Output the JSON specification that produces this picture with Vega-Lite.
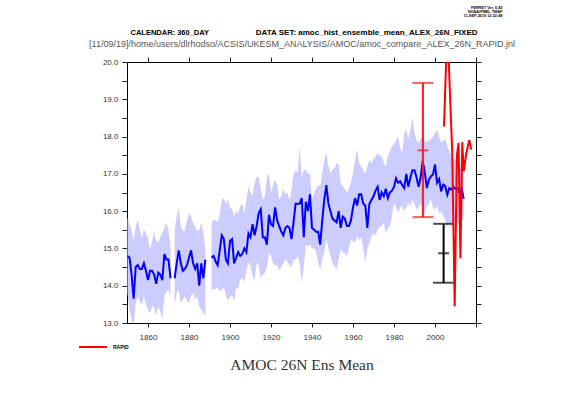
{
  "$schema": "https://vega.github.io/schema/vega-lite/v6.json",
  "width": 349,
  "height": 261,
  "autosize": {"type": "none"},
  "padding": {"left": 127, "top": 62, "right": 85, "bottom": 74},
  "background": "white",
  "config": {
    "view": {"stroke": "#000", "strokeWidth": 1},
    "font": "Liberation Sans",
    "axis": {"grid": false, "domain": false, "tickColor": "#222", "labelColor": "#333", "labelFontSize": 8, "labelFont": "Liberation Sans", "titleFont": "Liberation Sans"}
  },
  "title": {"text": ["FERRET Ver. 6.82", "NOAA/PMEL TMAP", "11-SEP-2019 12:22:48"], "anchor": "end", "dx": -12, "fontSize": 3.8, "lineHeight": 3.9, "fontWeight": "bold", "color": "#000", "offset": 10, "font": "Liberation Sans"},
  "datasets": {
    "ens": [
      {"year":1850,"mean":14.8,"lo":13.8,"hi":15.82},
      {"year":1851,"mean":14.75,"lo":13.36,"hi":15.64},
      {"year":1852,"mean":14.3,"lo":13.09,"hi":15.5},
      {"year":1853,"mean":13.65,"lo":12.9,"hi":15.2},
      {"year":1854,"mean":14.5,"lo":13.54,"hi":15.59},
      {"year":1855,"mean":14.55,"lo":13.72,"hi":15.77},
      {"year":1856,"mean":14.45,"lo":13.58,"hi":15.5},
      {"year":1857,"mean":14.45,"lo":13.49,"hi":15.28},
      {"year":1858,"mean":14.6,"lo":13.72,"hi":15.5},
      {"year":1859,"mean":14.4,"lo":13.49,"hi":15.41},
      {"year":1860,"mean":14.15,"lo":13.36,"hi":15.28},
      {"year":1861,"mean":14.4,"lo":13.27,"hi":14.97},
      {"year":1862,"mean":14.4,"lo":13.45,"hi":15.2},
      {"year":1863,"mean":14.3,"lo":13.4,"hi":15.46},
      {"year":1864,"mean":14.05,"lo":13.2,"hi":15.2},
      {"year":1865,"mean":14.35,"lo":13.45,"hi":15.15},
      {"year":1866,"mean":14.3,"lo":13.3,"hi":15.32},
      {"year":1867,"mean":14.15,"lo":13.1,"hi":15.41},
      {"year":1868,"mean":14.85,"lo":13.72,"hi":15.55},
      {"year":1869,"mean":14.7,"lo":13.85,"hi":15.68},
      {"year":1870,"mean":14.7,"lo":13.9,"hi":15.5},
      {"year":1871,"mean":14.2,"lo":13.72,"hi":15.06},
      {"year":1872,"mean":null,"lo":null,"hi":null},
      {"year":1873,"mean":14.2,"lo":13.45,"hi":15.5},
      {"year":1874,"mean":14.6,"lo":13.8,"hi":15.86},
      {"year":1875,"mean":14.95,"lo":13.9,"hi":16.08},
      {"year":1876,"mean":14.6,"lo":13.54,"hi":15.59},
      {"year":1877,"mean":14.4,"lo":13.63,"hi":15.46},
      {"year":1878,"mean":14.45,"lo":13.72,"hi":15.5},
      {"year":1879,"mean":14.55,"lo":13.58,"hi":15.77},
      {"year":1880,"mean":14.75,"lo":13.54,"hi":15.95},
      {"year":1881,"mean":14.95,"lo":13.72,"hi":15.86},
      {"year":1882,"mean":14.6,"lo":13.8,"hi":15.68},
      {"year":1883,"mean":14.45,"lo":13.63,"hi":15.59},
      {"year":1884,"mean":14.6,"lo":13.72,"hi":15.46},
      {"year":1885,"mean":14.0,"lo":13.45,"hi":15.5},
      {"year":1886,"mean":14.6,"lo":13.36,"hi":15.68},
      {"year":1887,"mean":14.2,"lo":13.27,"hi":15.41},
      {"year":1888,"mean":14.7,"lo":13.18,"hi":14.97},
      {"year":1889,"mean":null,"lo":null,"hi":null},
      {"year":1890,"mean":null,"lo":null,"hi":null},
      {"year":1891,"mean":14.75,"lo":13.9,"hi":15.68},
      {"year":1892,"mean":14.8,"lo":13.9,"hi":15.77},
      {"year":1893,"mean":14.65,"lo":13.92,"hi":15.75},
      {"year":1894,"mean":14.55,"lo":13.95,"hi":15.7},
      {"year":1895,"mean":14.95,"lo":13.85,"hi":15.9},
      {"year":1896,"mean":15.35,"lo":13.9,"hi":16.3},
      {"year":1897,"mean":15.25,"lo":13.95,"hi":16.35},
      {"year":1898,"mean":14.7,"lo":13.75,"hi":16.2},
      {"year":1899,"mean":14.6,"lo":13.6,"hi":16.31},
      {"year":1900,"mean":15.2,"lo":13.7,"hi":16.1},
      {"year":1901,"mean":15.25,"lo":13.75,"hi":16.05},
      {"year":1902,"mean":14.6,"lo":13.58,"hi":15.85},
      {"year":1903,"mean":14.75,"lo":13.95,"hi":16.0},
      {"year":1904,"mean":14.9,"lo":13.9,"hi":15.95},
      {"year":1905,"mean":14.8,"lo":14.16,"hi":16.13},
      {"year":1906,"mean":14.85,"lo":14.2,"hi":16.2},
      {"year":1907,"mean":15.0,"lo":14.1,"hi":15.95},
      {"year":1908,"mean":14.9,"lo":14.4,"hi":16.3},
      {"year":1909,"mean":15.4,"lo":14.61,"hi":16.67},
      {"year":1910,"mean":15.3,"lo":14.55,"hi":16.5},
      {"year":1911,"mean":15.65,"lo":14.25,"hi":16.4},
      {"year":1912,"mean":15.35,"lo":14.16,"hi":16.75},
      {"year":1913,"mean":15.6,"lo":14.61,"hi":16.93},
      {"year":1914,"mean":15.95,"lo":14.55,"hi":16.9},
      {"year":1915,"mean":16.05,"lo":14.2,"hi":16.6},
      {"year":1916,"mean":15.3,"lo":14.3,"hi":16.31},
      {"year":1917,"mean":15.3,"lo":14.34,"hi":16.4},
      {"year":1918,"mean":15.1,"lo":14.5,"hi":16.9},
      {"year":1919,"mean":15.9,"lo":14.88,"hi":17.0},
      {"year":1920,"mean":15.65,"lo":14.8,"hi":16.5},
      {"year":1921,"mean":15.6,"lo":14.6,"hi":16.7},
      {"year":1922,"mean":16.1,"lo":14.55,"hi":16.84},
      {"year":1923,"mean":15.75,"lo":14.55,"hi":16.7},
      {"year":1924,"mean":15.6,"lo":14.4,"hi":16.3},
      {"year":1925,"mean":15.45,"lo":14.5,"hi":16.4},
      {"year":1926,"mean":15.35,"lo":14.6,"hi":16.6},
      {"year":1927,"mean":15.55,"lo":14.7,"hi":16.45},
      {"year":1928,"mean":15.6,"lo":14.65,"hi":16.5},
      {"year":1929,"mean":15.55,"lo":14.55,"hi":16.3},
      {"year":1930,"mean":15.25,"lo":14.5,"hi":16.55},
      {"year":1931,"mean":15.7,"lo":14.7,"hi":17.0},
      {"year":1932,"mean":16.2,"lo":14.7,"hi":17.1},
      {"year":1933,"mean":16.2,"lo":14.8,"hi":17.02},
      {"year":1934,"mean":16.2,"lo":14.6,"hi":17.74},
      {"year":1935,"mean":16.35,"lo":14.07,"hi":16.9},
      {"year":1936,"mean":15.3,"lo":14.5,"hi":17.1},
      {"year":1937,"mean":16.25,"lo":15.1,"hi":17.11},
      {"year":1938,"mean":16.0,"lo":15.05,"hi":17.0},
      {"year":1939,"mean":16.45,"lo":15.1,"hi":17.0},
      {"year":1940,"mean":15.55,"lo":15.0,"hi":16.3},
      {"year":1941,"mean":15.5,"lo":15.0,"hi":16.5},
      {"year":1942,"mean":15.45,"lo":14.9,"hi":16.6},
      {"year":1943,"mean":15.45,"lo":14.61,"hi":16.7},
      {"year":1944,"mean":15.1,"lo":14.43,"hi":16.67},
      {"year":1945,"mean":15.75,"lo":14.7,"hi":17.0},
      {"year":1946,"mean":16.3,"lo":14.9,"hi":17.38},
      {"year":1947,"mean":16.7,"lo":15.24,"hi":17.56},
      {"year":1948,"mean":16.2,"lo":15.0,"hi":17.2},
      {"year":1949,"mean":16.0,"lo":14.79,"hi":17.02},
      {"year":1950,"mean":15.8,"lo":14.6,"hi":17.11},
      {"year":1951,"mean":15.75,"lo":14.52,"hi":17.15},
      {"year":1952,"mean":15.7,"lo":14.43,"hi":17.29},
      {"year":1953,"mean":16.0,"lo":14.7,"hi":17.25},
      {"year":1954,"mean":15.55,"lo":14.97,"hi":16.76},
      {"year":1955,"mean":15.85,"lo":14.9,"hi":16.67},
      {"year":1956,"mean":15.8,"lo":14.88,"hi":16.6},
      {"year":1957,"mean":15.6,"lo":14.79,"hi":16.49},
      {"year":1958,"mean":15.6,"lo":15.0,"hi":16.6},
      {"year":1959,"mean":15.75,"lo":15.24,"hi":16.76},
      {"year":1960,"mean":16.1,"lo":15.2,"hi":17.02},
      {"year":1961,"mean":16.35,"lo":15.15,"hi":17.38},
      {"year":1962,"mean":16.15,"lo":15.33,"hi":17.65},
      {"year":1963,"mean":16.45,"lo":15.24,"hi":17.3},
      {"year":1964,"mean":16.45,"lo":15.3,"hi":17.2},
      {"year":1965,"mean":16.2,"lo":15.0,"hi":17.11},
      {"year":1966,"mean":16.15,"lo":14.61,"hi":17.0},
      {"year":1967,"mean":15.55,"lo":15.0,"hi":17.2},
      {"year":1968,"mean":16.2,"lo":15.15,"hi":17.38},
      {"year":1969,"mean":16.3,"lo":15.33,"hi":17.29},
      {"year":1970,"mean":16.4,"lo":15.41,"hi":17.4},
      {"year":1971,"mean":16.55,"lo":15.35,"hi":17.47},
      {"year":1972,"mean":16.65,"lo":15.5,"hi":17.56},
      {"year":1973,"mean":16.3,"lo":15.59,"hi":17.5},
      {"year":1974,"mean":16.5,"lo":15.6,"hi":17.47},
      {"year":1975,"mean":16.4,"lo":15.68,"hi":17.3},
      {"year":1976,"mean":16.6,"lo":15.41,"hi":17.2},
      {"year":1977,"mean":16.35,"lo":15.55,"hi":17.47},
      {"year":1978,"mean":16.5,"lo":15.59,"hi":17.6},
      {"year":1979,"mean":16.55,"lo":15.86,"hi":17.74},
      {"year":1980,"mean":16.65,"lo":16.2,"hi":17.8},
      {"year":1981,"mean":16.88,"lo":16.1,"hi":17.9},
      {"year":1982,"mean":16.76,"lo":15.95,"hi":18.0},
      {"year":1983,"mean":16.8,"lo":16.1,"hi":17.7},
      {"year":1984,"mean":16.7,"lo":16.13,"hi":17.56},
      {"year":1985,"mean":16.62,"lo":16.0,"hi":18.1},
      {"year":1986,"mean":17.0,"lo":16.1,"hi":18.19},
      {"year":1987,"mean":16.65,"lo":16.22,"hi":17.92},
      {"year":1988,"mean":16.9,"lo":16.13,"hi":18.19},
      {"year":1989,"mean":17.1,"lo":16.31,"hi":18.5},
      {"year":1990,"mean":17.1,"lo":16.2,"hi":18.1},
      {"year":1991,"mean":16.9,"lo":16.04,"hi":17.9},
      {"year":1992,"mean":16.65,"lo":16.1,"hi":17.83},
      {"year":1993,"mean":16.9,"lo":16.22,"hi":17.95},
      {"year":1994,"mean":17.34,"lo":16.0,"hi":18.0},
      {"year":1995,"mean":17.05,"lo":15.95,"hi":17.9},
      {"year":1996,"mean":16.62,"lo":16.13,"hi":17.85},
      {"year":1997,"mean":16.84,"lo":16.2,"hi":17.9},
      {"year":1998,"mean":16.93,"lo":16.31,"hi":17.92},
      {"year":1999,"mean":16.98,"lo":16.1,"hi":18.0},
      {"year":2000,"mean":17.25,"lo":16.04,"hi":18.1},
      {"year":2001,"mean":16.76,"lo":16.13,"hi":18.18},
      {"year":2002,"mean":16.86,"lo":15.95,"hi":18.0},
      {"year":2003,"mean":16.53,"lo":16.0,"hi":17.83},
      {"year":2004,"mean":16.71,"lo":15.85,"hi":17.9},
      {"year":2005,"mean":16.67,"lo":15.77,"hi":17.92},
      {"year":2006,"mean":16.44,"lo":15.6,"hi":17.74},
      {"year":2007,"mean":16.62,"lo":15.7,"hi":17.6},
      {"year":2008,"mean":16.58,"lo":15.6,"hi":17.5},
      {"year":2009,"mean":16.65,"lo":15.55,"hi":17.4},
      {"year":2010,"mean":16.6,"lo":15.6,"hi":17.38},
      {"year":2011,"mean":16.62,"lo":15.7,"hi":17.3},
      {"year":2012,"mean":16.49,"lo":15.65,"hi":17.2},
      {"year":2013,"mean":16.6,"lo":15.8,"hi":17.1},
      {"year":2014,"mean":16.33,"lo":15.75,"hi":16.95}
    ],
    "rapid": [
      {"t":2004.4,"amoc":18.27,"series":"RAPID"},
      {"t":2006.0,"amoc":21.0,"series":"RAPID"},
      {"t":2008.4,"amoc":17.6,"series":"RAPID"},
      {"t":2009.6,"amoc":13.45,"series":"RAPID"},
      {"t":2010.7,"amoc":17.51,"series":"RAPID"},
      {"t":2011.5,"amoc":17.83,"series":"RAPID"},
      {"t":2012.4,"amoc":14.74,"series":"RAPID"},
      {"t":2013.3,"amoc":17.85,"series":"RAPID"},
      {"t":2014.0,"amoc":17.07,"series":"RAPID"},
      {"t":2015.3,"amoc":17.56,"series":"RAPID"},
      {"t":2016.7,"amoc":17.9,"series":"RAPID"},
      {"t":2017.7,"amoc":17.65,"series":"RAPID"}
    ],
    "bars": [
      {"group":"A","year":1994.1,"lo":15.84,"mid":17.63,"hi":19.44},
      {"group":"B","year":2004.2,"lo":14.08,"mid":14.87,"hi":15.66}
    ]
  },
  "resolve": {"axis": {"x": "independent", "y": "independent"}, "scale": {"color": "independent"}},
  "layer": [
    {
      "data": {"name": "ens"},
      "mark": {"type": "area", "color": "#ccccff", "clip": true, "invalid": "break-paths-show-domains"},
      "encoding": {
        "x": {"field": "year", "type": "quantitative",
          "scale": {"domain": [1849.76, 2020], "nice": false, "zero": false},
          "axis": {"orient": "bottom", "values": [1860,1880,1900,1920,1940,1960,1980,2000,2020], "format": "d",
            "labelExpr": "datum.value == 2020 ? '' : datum.label", "tickSize": 4, "labelPadding": 6,
            "title": "AMOC 26N Ens Mean", "titleFont": "Liberation Serif", "titleFontSize": 15.5, "titleFontWeight": "normal",
            "titleColor": "#333", "titlePadding": 16}},
        "y": {"field": "hi", "type": "quantitative",
          "scale": {"domain": [13, 20], "nice": false, "zero": false},
          "axis": {"orient": "left", "values": [13,13.5,14,14.5,15,15.5,16,16.5,17,17.5,18,18.5,19,19.5,20],
            "labelExpr": "datum.value % 1 == 0 ? format(datum.value, '.1f') : ''", "tickSize": 5, "labelPadding": 4,
            "title": "CALENDAR: 360_DAY", "titleAngle": 0, "titleAlign": "left", "titleBaseline": "middle",
            "titleX": 3, "titleY": -30, "titleFontSize": 7.5, "titleFontWeight": "bold", "titleColor": "#000"}},
        "y2": {"field": "lo"}
      }
    },
    {
      "data": {"name": "ens"},
      "mark": {"type": "line", "color": "#0000ff", "strokeWidth": 2, "clip": true, "invalid": "break-paths-show-domains"},
      "encoding": {
        "x": {"field": "year", "type": "quantitative",
          "scale": {"domain": [1849.76, 2020], "nice": false, "zero": false},
          "axis": {"orient": "top", "values": [1860,1880,1900,1920,1940,1960,1980,2000,2020], "labels": false, "tickSize": 5,
            "title": "[11/09/19]/home/users/dlrhodso/ACSIS/UKESM_ANALYSIS/AMOC/amoc_compare_ALEX_26N_RAPID.jnl",
            "titleFontSize": 9, "titleFontWeight": "normal", "titleColor": "#555", "titlePadding": 8}},
        "y": {"field": "mean", "type": "quantitative",
          "scale": {"domain": [13, 20], "nice": false, "zero": false},
          "axis": {"orient": "right", "values": [13,13.5,14,14.5,15,15.5,16,16.5,17,17.5,18,18.5,19,19.5,20], "labels": false, "tickSize": 5,
            "title": "DATA SET: amoc_hist_ensemble_mean_ALEX_26N_FIXED", "titleAngle": 0, "titleAlign": "right",
            "titleBaseline": "middle", "titleX": 1, "titleY": -30, "titleFontSize": 8,
            "titleFontWeight": "bold", "titleColor": "#000"}}
      }
    },
    {
      "data": {"name": "bars"},
      "mark": {"type": "rule", "strokeWidth": 2},
      "encoding": {
        "x": {"field": "year", "type": "quantitative", "scale": {"domain": [1849.76, 2020], "nice": false, "zero": false}, "axis": null},
        "y": {"field": "lo", "type": "quantitative", "scale": {"domain": [13, 20], "nice": false, "zero": false}, "axis": null},
        "y2": {"field": "hi"},
        "color": {"field": "group", "type": "nominal", "scale": {"domain": ["A", "B"], "range": ["#ff1a1a", "#000000"]}, "legend": null}
      }
    },
    {
      "data": {"name": "bars"},
      "transform": [{"fold": ["hi", "lo"], "as": ["k", "v"]}],
      "mark": {"type": "tick", "orient": "horizontal", "thickness": 2, "size": 21},
      "encoding": {
        "x": {"field": "year", "type": "quantitative", "scale": {"domain": [1849.76, 2020], "nice": false, "zero": false}, "axis": null},
        "y": {"field": "v", "type": "quantitative", "scale": {"domain": [13, 20], "nice": false, "zero": false}, "axis": null},
        "color": {"field": "group", "type": "nominal", "scale": {"domain": ["A", "B"], "range": ["#ff1a1a", "#000000"]}, "legend": null}
      }
    },
    {
      "data": {"name": "bars"},
      "mark": {"type": "tick", "orient": "horizontal", "thickness": 2, "size": 11},
      "encoding": {
        "x": {"field": "year", "type": "quantitative", "scale": {"domain": [1849.76, 2020], "nice": false, "zero": false}, "axis": null},
        "y": {"field": "mid", "type": "quantitative", "scale": {"domain": [13, 20], "nice": false, "zero": false}, "axis": null},
        "color": {"field": "group", "type": "nominal", "scale": {"domain": ["A", "B"], "range": ["#ff1a1a", "#000000"]}, "legend": null}
      }
    },
    {
      "data": {"name": "rapid"},
      "mark": {"type": "line", "strokeWidth": 2, "clip": true},
      "encoding": {
        "x": {"field": "t", "type": "quantitative", "scale": {"domain": [1849.76, 2020], "nice": false, "zero": false}, "axis": null},
        "y": {"field": "amoc", "type": "quantitative", "scale": {"domain": [13, 20], "nice": false, "zero": false}, "axis": null},
        "color": {"field": "series", "type": "nominal", "scale": {"domain": ["RAPID"], "range": ["#ff0000"]},
          "legend": {"title": null, "orient": "none", "legendX": -49, "legendY": 270, "symbolType": "stroke", "symbolSize": 784,
            "symbolStrokeWidth": 2, "labelFontSize": 5, "labelFontWeight": "bold", "labelOffset": 5, "labelColor": "#000", "padding": 0}}
      }
    }
  ]
}
